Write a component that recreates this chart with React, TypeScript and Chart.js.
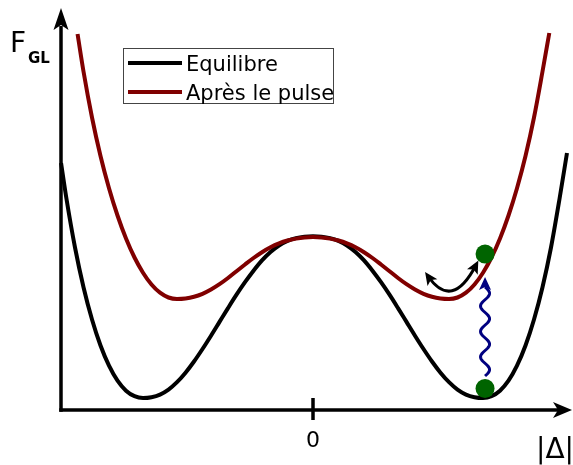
import React, { useEffect, useRef } from "react";
import { Chart, registerables } from "chart.js";

Chart.register(...registerables);

// ---- Data (Δ on x, F_GL on y, arbitrary units) ----
const blackX = [-1.482, -1.45, -1.4, -1.35, -1.3, -1.25, -1.2, -1.15, -1.1, -1.05, -1.0, -0.95, -0.9, -0.85, -0.8, -0.75, -0.7, -0.65, -0.6, -0.55, -0.5,
  -0.45, -0.4, -0.35, -0.3, -0.25, -0.2, -0.15, -0.1, -0.05, 0,
  0.05, 0.1, 0.15, 0.2, 0.25, 0.3, 0.35, 0.4, 0.45, 0.5, 0.55, 0.6, 0.65, 0.7, 0.75, 0.8, 0.85, 0.9, 0.95, 1.0,
  1.05, 1.1, 1.15, 1.2, 1.25, 1.3, 1.35, 1.4, 1.45, 1.494];
const blackF = [2.47, 2.11, 1.625, 1.228, 0.905, 0.645, 0.443, 0.293, 0.193, 0.138, 0.12, 0.128, 0.154, 0.204, 0.278, 0.373, 0.485, 0.61, 0.743, 0.881, 1.019,
  1.153, 1.278, 1.393, 1.496, 1.58, 1.645, 1.691, 1.719, 1.733, 1.737,
  1.733, 1.719, 1.691, 1.645, 1.58, 1.496, 1.393, 1.278, 1.153, 1.019, 0.881, 0.743, 0.61, 0.485, 0.373, 0.278, 0.204, 0.154, 0.128, 0.12,
  0.138, 0.193, 0.293, 0.443, 0.645, 0.905, 1.228, 1.625, 2.11, 2.57];

const redX = [-1.385, -1.35, -1.3, -1.25, -1.2, -1.15, -1.1, -1.05, -1.0, -0.95, -0.9, -0.85, -0.8, -0.75, -0.7, -0.65, -0.6, -0.55, -0.5,
  -0.45, -0.4, -0.35, -0.3, -0.25, -0.2, -0.15, -0.1, -0.05, 0,
  0.05, 0.1, 0.15, 0.2, 0.25, 0.3, 0.35, 0.4, 0.45, 0.5, 0.55, 0.6, 0.65, 0.7, 0.75, 0.8, 0.85, 0.9, 0.95, 1.0,
  1.05, 1.1, 1.15, 1.2, 1.25, 1.3, 1.35, 1.39];
const redF = [3.76, 3.385, 2.925, 2.54, 2.218, 1.945, 1.715, 1.525, 1.373, 1.255, 1.173, 1.125, 1.11, 1.115, 1.132, 1.162, 1.205, 1.258, 1.32,
  1.388, 1.455, 1.52, 1.578, 1.627, 1.666, 1.695, 1.714, 1.726, 1.73,
  1.726, 1.714, 1.695, 1.666, 1.627, 1.578, 1.52, 1.455, 1.388, 1.32, 1.258, 1.205, 1.162, 1.132, 1.115, 1.11, 1.125, 1.173, 1.255, 1.373,
  1.525, 1.715, 1.945, 2.218, 2.54, 2.925, 3.385, 3.77];

const dotX = [1.012, 1.012];
const dotF = [1.56, 0.215];

const seriesLabels = ["Equilibre", "Après le pulse"];
const xTickValues = [0];
const xTickLabels = ["0"];
const xAxisTitle = "|Δ|";
const yAxisTitle = "F";
const yAxisSub = "GL";

const xMin = -1.4824;
const xMax = 1.4706;
const yMin = 0;
const yMax = 4;

// annotations (data units)
const wavyX = [1.012];
const wavyF = [0.34, 1.33]; // start, tip
const curvedX = [0.676, 0.818, 0.959]; // start, control, end
const curvedF = [1.34, 0.99, 1.45];

const FONT = "'DejaVu Sans', sans-serif";
const BLACK = "#000000";
const RED = "#800000";
const GREEN = "#006400";
const BLUE = "#000080";

function arrowHead(ctx: CanvasRenderingContext2D, tipX: number, tipY: number, dx: number, dy: number, len: number, half: number, notch: number, color: string) {
  const l = Math.hypot(dx, dy) || 1;
  const ux = dx / l, uy = dy / l;
  const px = -uy, py = ux;
  const bx = tipX - ux * len, by = tipY - uy * len;
  const nx = tipX - ux * (len - notch), ny = tipY - uy * (len - notch);
  ctx.save();
  ctx.fillStyle = color;
  ctx.beginPath();
  ctx.moveTo(tipX, tipY);
  ctx.lineTo(bx + px * half, by + py * half);
  ctx.lineTo(nx, ny);
  ctx.lineTo(bx - px * half, by - py * half);
  ctx.closePath();
  ctx.fill();
  ctx.restore();
}

const decoPlugin = {
  id: "deco",
  beforeDatasetsDraw(chart: any) {
    const ctx: CanvasRenderingContext2D = chart.ctx;
    const { left, right, top, bottom } = chart.chartArea;
    const xs = chart.scales.x;
    ctx.save();
    ctx.strokeStyle = BLACK;
    ctx.lineWidth = 3.5;
    ctx.lineCap = "butt";
    // y axis
    ctx.beginPath();
    ctx.moveTo(left, bottom + 1.75);
    ctx.lineTo(left, top + 16);
    ctx.stroke();
    arrowHead(ctx, left, top - 2, 0, -1, 22, 7.5, 5, BLACK);
    // x axis
    ctx.beginPath();
    ctx.moveTo(left - 1.75, bottom);
    ctx.lineTo(right - 4, bottom);
    ctx.stroke();
    arrowHead(ctx, right + 9, bottom, 1, 0, 19, 8, 5, BLACK);
    // ticks
    ctx.fillStyle = BLACK;
    ctx.font = `22px ${FONT}`;
    ctx.textAlign = "center";
    ctx.textBaseline = "alphabetic";
    xTickValues.forEach((v, i) => {
      const px = xs.getPixelForValue(v);
      ctx.beginPath();
      ctx.moveTo(px, bottom - 12);
      ctx.lineTo(px, bottom + 10);
      ctx.stroke();
      ctx.fillText(xTickLabels[i], px, bottom + 37);
    });
    // axis titles
    ctx.textAlign = "left";
    ctx.font = `28px ${FONT}`;
    ctx.fillText(xAxisTitle, 536, bottom + 48);
    ctx.font = `28px ${FONT}`;
    ctx.fillText(yAxisTitle, 10, 52);
    ctx.font = `bold 15px ${FONT}`;
    ctx.fillText(yAxisSub, 28, 63);
    ctx.restore();
  },
  afterDatasetsDraw(chart: any) {
    const ctx: CanvasRenderingContext2D = chart.ctx;
    const xs = chart.scales.x;
    const ys = chart.scales.y;
    ctx.save();
    // wavy arrow
    const wx = xs.getPixelForValue(wavyX[0]);
    const y0 = ys.getPixelForValue(wavyF[0]);
    const yTip = ys.getPixelForValue(wavyF[1]);
    const headLen = 13;
    const yEnd = yTip + headLen - 3;
    const L = y0 - yEnd;
    const lambda = L / 3.5;
    ctx.strokeStyle = BLUE;
    ctx.lineWidth = 3;
    ctx.lineJoin = "round";
    ctx.beginPath();
    for (let t = 0; t <= L; t += 0.5) {
      const x = wx + 4.5 * Math.sin((2 * Math.PI * t) / lambda);
      const y = y0 - t;
      if (t === 0) ctx.moveTo(x, y);
      else ctx.lineTo(x, y);
    }
    ctx.stroke();
    arrowHead(ctx, wx, yTip, 0, -1, headLen, 6, 3, BLUE);

    // curved double arrow
    const p0x = xs.getPixelForValue(curvedX[0]), p0y = ys.getPixelForValue(curvedF[0]);
    const cx = xs.getPixelForValue(curvedX[1]), cy = ys.getPixelForValue(curvedF[1]);
    const p2x = xs.getPixelForValue(curvedX[2]), p2y = ys.getPixelForValue(curvedF[2]);
    ctx.strokeStyle = BLACK;
    ctx.lineWidth = 3;
    ctx.beginPath();
    ctx.moveTo(p0x, p0y);
    ctx.quadraticCurveTo(cx, cy, p2x, p2y);
    ctx.stroke();
    const d0x = p0x - cx, d0y = p0y - cy;
    const l0 = Math.hypot(d0x, d0y);
    arrowHead(ctx, p0x + (d0x / l0) * 5, p0y + (d0y / l0) * 5, d0x, d0y, 13, 6, 3, BLACK);
    const d2x = p2x - cx, d2y = p2y - cy;
    const l2 = Math.hypot(d2x, d2y);
    arrowHead(ctx, p2x + (d2x / l2) * 5, p2y + (d2y / l2) * 5, d2x, d2y, 13, 6, 3, BLACK);
    ctx.restore();
  },
  afterDraw(chart: any) {
    const ctx: CanvasRenderingContext2D = chart.ctx;
    ctx.save();
    // legend box
    ctx.strokeStyle = "#444";
    ctx.lineWidth = 1;
    ctx.strokeRect(123.5, 48.5, 210, 55);
    const colors = [BLACK, RED];
    const rowsY = [63, 92];
    ctx.font = `21px ${FONT}`;
    ctx.textAlign = "left";
    ctx.textBaseline = "alphabetic";
    seriesLabels.forEach((lab, i) => {
      ctx.strokeStyle = colors[i];
      ctx.lineWidth = 4;
      ctx.beginPath();
      ctx.moveTo(128, rowsY[i]);
      ctx.lineTo(182, rowsY[i]);
      ctx.stroke();
      ctx.fillStyle = "#000";
      ctx.fillText(lab, 186, rowsY[i] + 7.5);
    });
    ctx.restore();
  },
};

export default function App() {
  const ref = useRef<HTMLCanvasElement | null>(null);
  useEffect(() => {
    document.body.style.margin = "0";
    const canvas = ref.current!;
    const chart = new Chart(canvas, {
      type: "line",
      data: {
        datasets: [
          {
            label: "dots",
            data: dotX.map((x, i) => ({ x, y: dotF[i] })),
            showLine: false,
            pointRadius: 9.5,
            pointBackgroundColor: GREEN,
            pointBorderColor: GREEN,
            pointBorderWidth: 0,
            clip: false,
            order: 0,
          } as any,
          {
            label: seriesLabels[1],
            data: redX.map((x, i) => ({ x, y: redF[i] })),
            borderColor: RED,
            borderWidth: 4,
            pointRadius: 0,
            cubicInterpolationMode: "monotone",
            fill: false,
            clip: false,
            order: 1,
          } as any,
          {
            label: seriesLabels[0],
            data: blackX.map((x, i) => ({ x, y: blackF[i] })),
            borderColor: BLACK,
            borderWidth: 4,
            pointRadius: 0,
            cubicInterpolationMode: "monotone",
            fill: false,
            clip: false,
            order: 2,
          } as any,
        ],
      },
      options: {
        animation: false,
        responsive: false,
        layout: { padding: { left: 61, right: 10, top: 10, bottom: 55 } },
        scales: {
          x: { type: "linear", min: xMin, max: xMax, display: false },
          y: { type: "linear", min: yMin, max: yMax, display: false },
        },
        plugins: { legend: { display: false }, tooltip: { enabled: false } },
        events: [],
      },
      plugins: [decoPlugin],
    });
    return () => chart.destroy();
  }, []);
  return (
    <canvas
      ref={ref}
      width={573}
      height={465}
      style={{ position: "fixed", left: 0, top: 0, width: 573, height: 465 }}
    />
  );
}
